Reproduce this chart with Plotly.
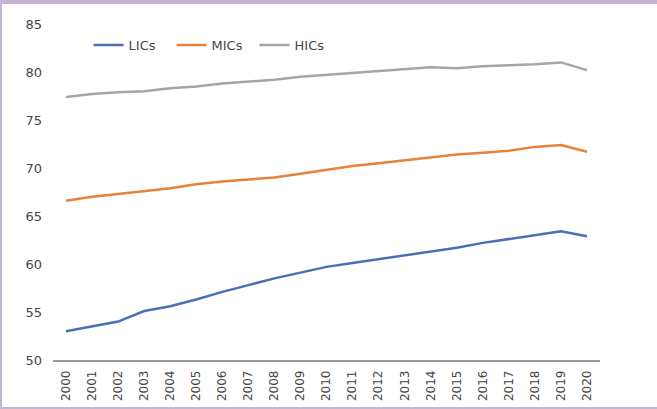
import plotly.graph_objects as go

years = [str(y) for y in range(2000, 2021)]
lics = [53.0, 53.5, 54.0, 55.1, 55.6, 56.3, 57.1, 57.8, 58.5, 59.1, 59.7, 60.1, 60.5, 60.9, 61.3, 61.7, 62.2, 62.6, 63.0, 63.4, 62.9]
mics = [66.6, 67.0, 67.3, 67.6, 67.9, 68.3, 68.6, 68.8, 69.0, 69.4, 69.8, 70.2, 70.5, 70.8, 71.1, 71.4, 71.6, 71.8, 72.2, 72.4, 71.7]
hics = [77.4, 77.7, 77.9, 78.0, 78.3, 78.5, 78.8, 79.0, 79.2, 79.5, 79.7, 79.9, 80.1, 80.3, 80.5, 80.4, 80.6, 80.7, 80.8, 81.0, 80.2]
series_names = ["LICs", "MICs", "HICs"]
colors = ["#4A6FB5", "#E8823A", "#A5A5A5"]

W, H = 657, 409
L, R, T, B = 53, 57, 24, 49

fig = go.Figure()
for name, vals, c in zip(series_names, [lics, mics, hics], colors):
    fig.add_trace(go.Scatter(x=years, y=vals, mode="lines", name=name,
                             line=dict(color=c, width=2.5)))

font_family = "DejaVu Sans, Verdana, sans-serif"
txt = "#454545"
fs = 13
fig.update_layout(
    width=W, height=H,
    margin=dict(l=L, r=R, t=T, b=B, pad=0, autoexpand=False),
    paper_bgcolor="white", plot_bgcolor="white",
    font=dict(family=font_family, size=fs, color=txt),
    showlegend=True,
    legend=dict(orientation="h", x=0.065, xanchor="left", y=0.9375, yanchor="middle",
                font=dict(size=fs, color=txt), bgcolor="rgba(0,0,0,0)",
                itemwidth=30, tracegroupgap=0, entrywidth=38, entrywidthmode="pixels"),
    xaxis=dict(type="category", range=[-0.5, 20.5], showgrid=False, zeroline=False,
               showline=True, linecolor="#9a9a9a", linewidth=1.5, automargin=False,
               tickangle=-90, ticks="", tickfont=dict(size=12, color=txt),
               ticklabelstandoff=4),
    yaxis=dict(range=[50, 85], dtick=5, tick0=50, showgrid=False, zeroline=False,
               showline=False, ticks="", tickfont=dict(size=fs, color=txt), automargin=False,
               ticklabelstandoff=10),
)

# lavender border (top, left, bottom)
bw = "#C3B5D6"
def px2x(p):
    return (p - L) / (W - L - R)
def py2y(p):
    return (H - B - p) / (H - T - B)
fig.add_shape(type="rect", xref="paper", yref="paper", x0=px2x(0), x1=px2x(W), y0=py2y(0), y1=py2y(4),
              fillcolor=bw, line=dict(width=0), layer="above")
fig.add_shape(type="rect", xref="paper", yref="paper", x0=px2x(0), x1=px2x(2), y0=py2y(0), y1=py2y(H),
              fillcolor=bw, line=dict(width=0), layer="above")
fig.add_shape(type="rect", xref="paper", yref="paper", x0=px2x(0), x1=px2x(W), y0=py2y(H - 2), y1=py2y(H),
              fillcolor=bw, line=dict(width=0), layer="above")

fig.write_html("out.html", config={"displayModeBar": False},
               post_script="document.body.style.margin='0';document.body.style.overflow='hidden';")
